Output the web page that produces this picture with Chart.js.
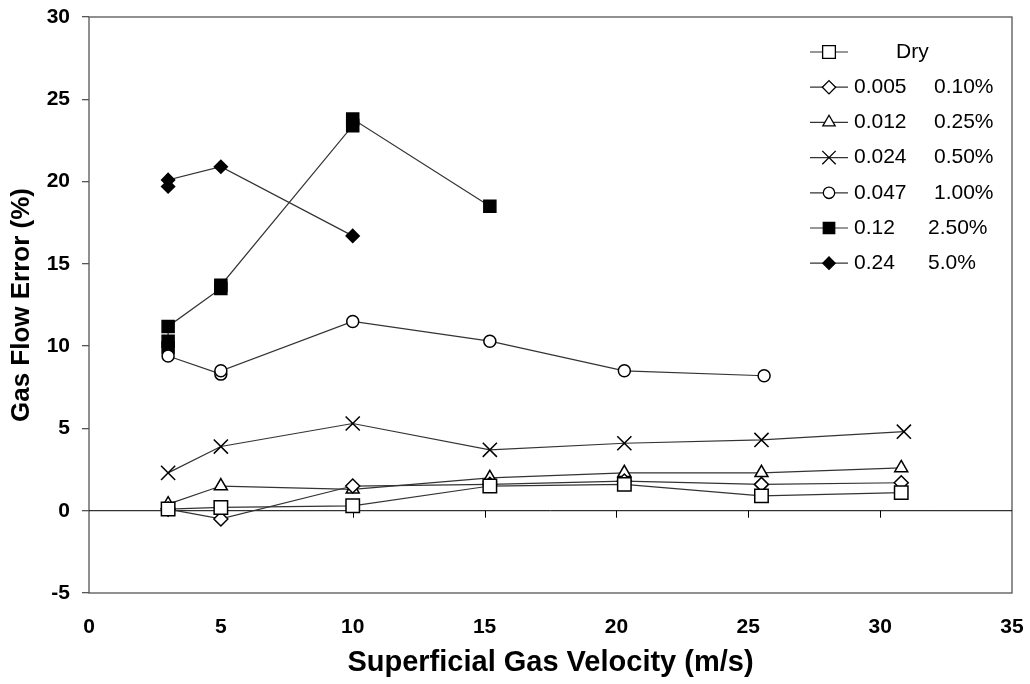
<!DOCTYPE html>
<html>
<head>
<meta charset="utf-8">
<script src="https://cdn.jsdelivr.net/npm/chart.js@4.4.0/dist/chart.umd.min.js"></script>
<style>
  html, body { margin: 0; padding: 0; background: #fff; }
</style>
</head>
<body>
<canvas id="gasChart" width="1030" height="684"></canvas>
<script>
// Data (x = superficial gas velocity, y = gas flow error %)
const seriesNames = ["Dry", "0.005", "0.012", "0.024", "0.047", "0.12", "0.24"];
const seriesPct = ["", "0.10%", "0.25%", "0.50%", "1.00%", "2.50%", "5.0%"];

const dryX = [3, 5, 10, 15.2, 20.3, 25.5, 30.8];
const dryY = [0.1, 0.2, 0.3, 1.5, 1.6, 0.9, 1.1];

const s005X = [3, 5, 10, 15.2, 20.3, 25.5, 30.8];
const s005Y = [0.1, -0.5, 1.5, 1.6, 1.8, 1.6, 1.7];

const s012X = [3, 5, 10, 15.2, 20.3, 25.5, 30.8];
const s012Y = [0.4, 1.5, 1.3, 2.0, 2.3, 2.3, 2.6];

const s024X = [3, 5, 10, 15.2, 20.3, 25.5, 30.9];
const s024Y = [2.3, 3.9, 5.3, 3.7, 4.1, 4.3, 4.8];

const s047X = [3, 5, 5, 10, 15.2, 20.3, 25.6];
const s047Y = [9.4, 8.3, 8.5, 11.5, 10.3, 8.5, 8.2];

const s12X = [3, 3, 3, 5, 5, 10, 10, 15.2];
const s12Y = [9.9, 10.3, 11.2, 13.5, 13.7, 23.4, 23.8, 18.5];

const s24X = [3, 3, 5, 10];
const s24Y = [19.7, 20.1, 20.9, 16.7];

const xTicks = [0, 35, 5];   // min, max, step
const yTicks = [-5, 30, 5];

function pts(xs, ys) {
    return xs.map((x, i) => ({ x: x, y: ys[i] }));
}

function makeSet(i, xs, ys, style, radius, filled) {
    return {
        label: seriesNames[i],
        data: pts(xs, ys),
        showLine: true,
        tension: 0,
        borderColor: "#333",
        borderWidth: 1.2,
        pointStyle: style,
        pointRadius: radius,
        pointHoverRadius: radius,
        pointBorderColor: "#000",
        pointBorderWidth: 1.5,
        pointBackgroundColor: filled ? "#000" : "#fff"
    };
}

// frame, zero line with its ticks, and the legend
const framePlugin = {
    id: "frame",
    beforeDatasetsDraw(chart) {
        const { ctx, chartArea: a, scales: { x, y } } = chart;
        ctx.save();
        ctx.strokeStyle = "#555";
        ctx.lineWidth = 1.3;
        ctx.strokeRect(a.left, a.top, a.right - a.left, a.bottom - a.top);

        const y0 = y.getPixelForValue(0);
        ctx.strokeStyle = "#000";
        ctx.lineWidth = 1;
        ctx.beginPath();
        ctx.moveTo(a.left, y0);
        ctx.lineTo(a.right, y0);
        x.ticks.forEach(t => {
            if (t.value > xTicks[0] && t.value < xTicks[1]) {
                const px = Math.round(x.getPixelForValue(t.value)) + 0.5;
                ctx.moveTo(px, y0);
                ctx.lineTo(px, y0 + 7);
            }
        });
        ctx.stroke();
        ctx.restore();
    },
    afterDraw(chart) {
        const { ctx, chartArea: a } = chart;
        ctx.save();
        ctx.font = '21px "Liberation Sans", Arial, sans-serif';
        ctx.fillStyle = "#000";
        ctx.textBaseline = "middle";
        chart.data.datasets.forEach((ds, i) => {
            const cy = a.top + 35 + i * 35.2;
            const x1 = a.right - 202, x2 = a.right - 164;
            ctx.strokeStyle = ds.borderColor;
            ctx.lineWidth = 1.2;
            ctx.beginPath();
            ctx.moveTo(x1, cy);
            ctx.lineTo(x2, cy);
            ctx.stroke();
            ctx.strokeStyle = ds.pointBorderColor;
            ctx.fillStyle = ds.pointBackgroundColor;
            ctx.lineWidth = 1.3;
            Chart.helpers.drawPoint(ctx, {
                pointStyle: ds.pointStyle,
                radius: ds.pointRadius * 0.95,
                rotation: 0,
                borderWidth: 1.3
            }, (x1 + x2) / 2, cy);
            ctx.fillStyle = "#000";
            if (seriesPct[i] === "") {
                ctx.fillText(seriesNames[i], a.right - 116, cy);
            } else {
                ctx.fillText(seriesNames[i], a.right - 158, cy);
                const off = seriesNames[i].length > 4 ? 80 : 74;
                ctx.fillText(seriesPct[i], a.right - 158 + off, cy);
            }
        });
        ctx.restore();
    }
};

function noOverflow(s) {
    s.paddingTop = 0;
    s.paddingBottom = 0;
    s.paddingLeft = 0;
    s.paddingRight = 0;
}

const ctx = document.getElementById("gasChart").getContext("2d");
const gasChart = new Chart(ctx, {
    type: "scatter",
    data: {
        datasets: [
            makeSet(0, dryX, dryY, "rect", 9.5, false),
            makeSet(1, s005X, s005Y, "rectRot", 7, false),
            makeSet(2, s012X, s012Y, "triangle", 7.5, false),
            makeSet(3, s024X, s024Y, "crossRot", 10, false),
            makeSet(4, s047X, s047Y, "circle", 6, false),
            makeSet(5, s12X, s12Y, "rect", 8.5, true),
            makeSet(6, s24X, s24Y, "rectRot", 6.5, true)
        ]
    },
    options: {
        responsive: false,
        devicePixelRatio: 1,
        animation: false,
        layout: { padding: { top: 17, right: 18, left: 0, bottom: 0 } },
        plugins: {
            legend: { display: false },
            tooltip: { enabled: false }
        },
        scales: {
            x: {
                type: "linear",
                min: xTicks[0],
                max: xTicks[1],
                afterFit: s => { s.height = 91; noOverflow(s); },
                ticks: {
                    stepSize: xTicks[2],
                    color: "#000",
                    padding: 22,
                    font: { family: '"Liberation Sans", Arial', size: 21, weight: "bold" }
                },
                grid: { display: false, drawTicks: false },
                border: { display: false },
                title: {
                    display: true,
                    text: "Superficial Gas Velocity (m/s)",
                    color: "#000",
                    padding: { top: 0, bottom: 4 },
                    font: { family: '"Liberation Sans", Arial', size: 29, weight: "bold" }
                }
            },
            y: {
                type: "linear",
                min: yTicks[0],
                max: yTicks[1],
                afterFit: s => { s.width = 89; noOverflow(s); },
                ticks: {
                    stepSize: yTicks[2],
                    color: "#000",
                    padding: 12,
                    font: { family: '"Liberation Sans", Arial', size: 21, weight: "bold" }
                },
                grid: { drawOnChartArea: false, drawTicks: true, tickLength: 7, color: "#555", lineWidth: 1.3 },
                border: { display: false },
                title: {
                    display: true,
                    text: "Gas Flow Error (%)",
                    color: "#000",
                    padding: { top: 6, bottom: 0 },
                    font: { family: '"Liberation Sans", Arial', size: 26, weight: "bold" }
                }
            }
        }
    },
    plugins: [framePlugin]
});
</script>
</body>
</html>
